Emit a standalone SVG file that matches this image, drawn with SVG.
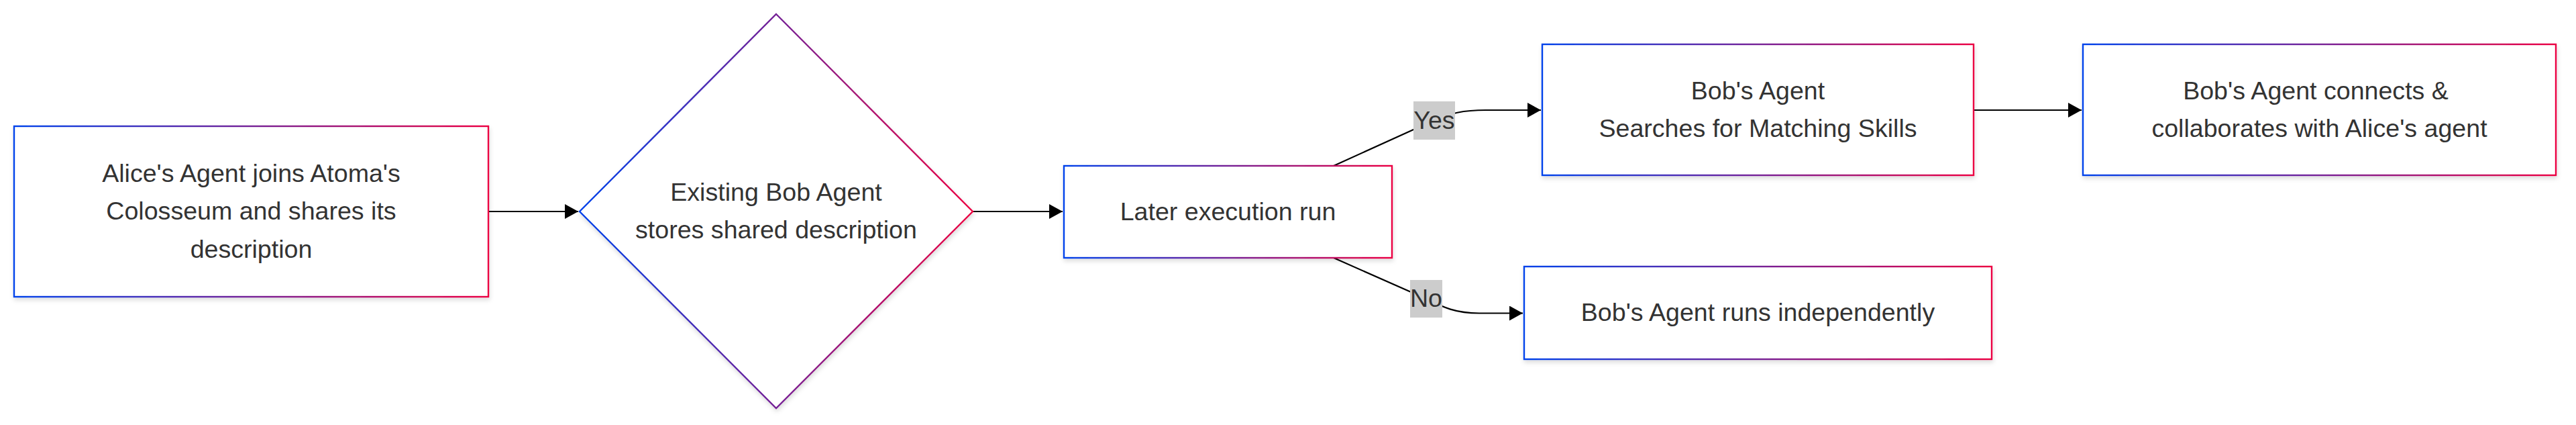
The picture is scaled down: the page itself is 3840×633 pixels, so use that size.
<svg xmlns="http://www.w3.org/2000/svg" width="3840" height="633" viewBox="0 0 3840 633">
  <defs>
    <linearGradient id="grad" x1="0" y1="0" x2="1" y2="0">
      <stop offset="0" stop-color="#0042eb"/>
      <stop offset="1" stop-color="#eb0042"/>
    </linearGradient>
    <filter id="shadow" x="-10%" y="-10%" width="120%" height="130%">
      <feDropShadow dx="1" dy="4" stdDeviation="3" flood-color="#000" flood-opacity="0.13"/>
    </filter>
    <marker id="arrow" markerUnits="userSpaceOnUse" markerWidth="21" markerHeight="22" refX="20" refY="11" orient="auto" viewBox="0 0 21 22">
      <path d="M0,0 L20,11 L0,22 z" fill="#000"/>
    </marker>
  </defs>
  <style>
    .node { fill: #ffffff; stroke: url(#grad); stroke-width: 2.4; filter: url(#shadow); }
    .label { font-family: "Liberation Sans", Arial, sans-serif; font-size: 37.6px; fill: #333333; text-anchor: middle; }
    .edge { fill: none; stroke: #000; stroke-width: 2.2; }
    .elbg { fill: #cccccc; }
  </style>
  <rect x="0" y="0" width="3840" height="633" fill="#ffffff"/>

  <g id="edges">
    <path class="edge" d="M728,315 L862,315" marker-end="url(#arrow)"/>
    <path class="edge" d="M1450,315 L1584,315" marker-end="url(#arrow)"/>
    <path class="edge" d="M1988,247 L2138,179 C2162,169 2180,164 2215,164 L2297,164" marker-end="url(#arrow)"/>
    <path class="edge" d="M1988,384 L2126,445 C2152,458 2170,466.5 2205,466.5 L2270,466.5" marker-end="url(#arrow)"/>
    <path class="edge" d="M2942,164 L3103,164" marker-end="url(#arrow)"/>
    <g id="edge-label-yes">
      <rect class="elbg" x="2107" y="151" width="62" height="57"/>
      <text class="label" x="2138" y="191.5">Yes</text>
    </g>
    <g id="edge-label-no">
      <rect class="elbg" x="2102" y="417" width="48" height="56"/>
      <text class="label" x="2126" y="457">No</text>
    </g>
  </g>

  <g id="node-alice">
    <rect class="node" x="21" y="188" width="707" height="254"/>
    <text class="label" x="374.5" y="270.7">Alice's Agent joins Atoma's</text>
    <text class="label" x="374.5" y="327.1">Colosseum and shares its</text>
    <text class="label" x="374.5" y="383.5">description</text>
  </g>

  <g id="node-existing">
    <polygon class="node" points="1157,21 1450,315 1157,608 864,315"/>
    <text class="label" x="1157" y="299">Existing Bob Agent</text>
    <text class="label" x="1157" y="355.4">stores shared description</text>
  </g>

  <g id="node-later">
    <rect class="node" x="1586" y="247" width="489" height="137"/>
    <text class="label" x="1830.5" y="327.5">Later execution run</text>
  </g>

  <g id="node-search">
    <rect class="node" x="2299" y="66" width="643" height="195"/>
    <text class="label" x="2620.5" y="148">Bob's Agent</text>
    <text class="label" x="2620.5" y="204.4">Searches for Matching Skills</text>
  </g>

  <g id="node-connect">
    <rect class="node" x="3105" y="66" width="705" height="195"/>
    <text class="label" x="3452" y="148">Bob's Agent connects &amp;</text>
    <text class="label" x="3457.5" y="204.4">collaborates with Alice's agent</text>
  </g>

  <g id="node-independent">
    <rect class="node" x="2272" y="397" width="697" height="138"/>
    <text class="label" x="2620.5" y="477.8">Bob's Agent runs independently</text>
  </g>
</svg>
